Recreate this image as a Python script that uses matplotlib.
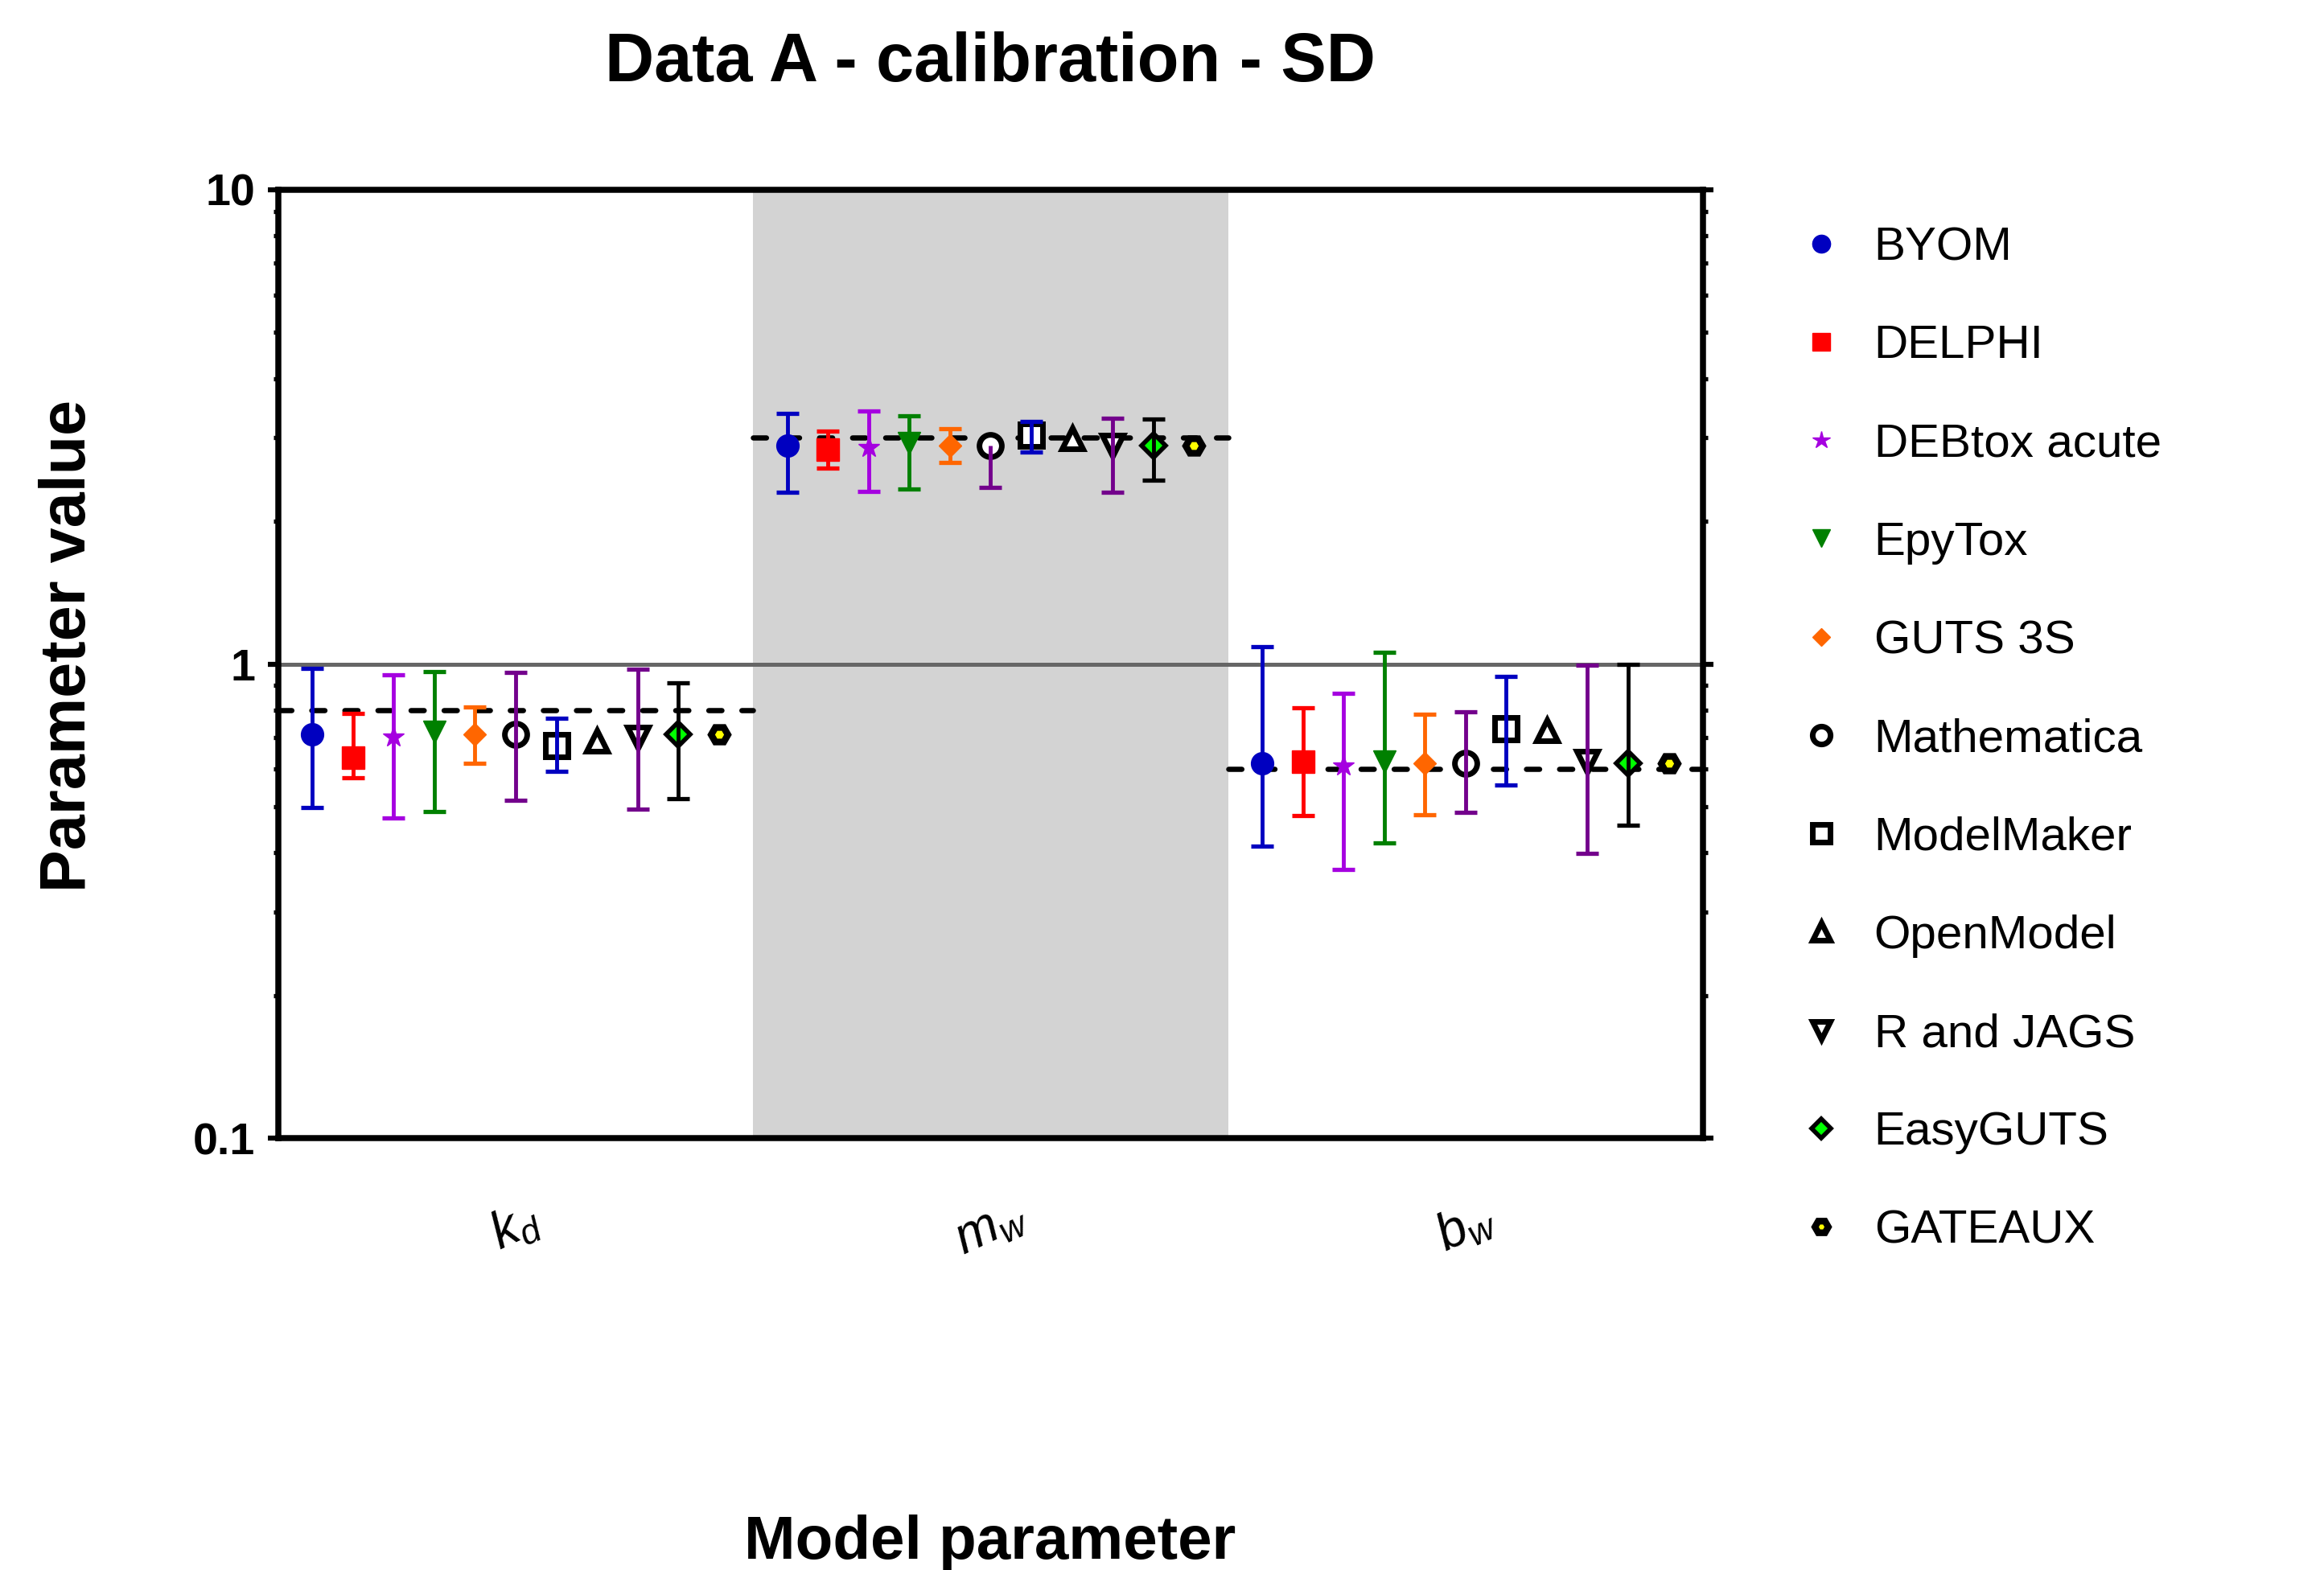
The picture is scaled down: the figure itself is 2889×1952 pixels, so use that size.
import numpy as np
import matplotlib
matplotlib.use("Agg")
import matplotlib.pyplot as plt
from matplotlib.lines import Line2D
from matplotlib.ticker import LogLocator, NullFormatter

plt.rcParams['font.family'] = ['Liberation Sans', 'DejaVu Sans']
plt.rcParams['mathtext.fontset'] = 'custom'
plt.rcParams['mathtext.it'] = 'Liberation Sans:italic'
plt.rcParams['mathtext.rm'] = 'Liberation Sans'

# -------- data --------
params = [r'$k_d$', r'$m_w$', r'$b_w$']
true_vals = [0.8, 3.0, 0.6]

models = ['BYOM', 'DELPHI', 'DEBtox acute', 'EpyTox', 'GUTS 3S', 'Mathematica',
          'ModelMaker', 'OpenModel', 'R and JAGS', 'EasyGUTS', 'GATEAUX']

# best estimates per model: kd, mw, bw
est = [
    [0.710, 2.89, 0.618],
    [0.635, 2.83, 0.622],
    [0.702, 2.86, 0.611],
    [0.718, 2.92, 0.623],
    [0.710, 2.89, 0.618],
    [0.710, 2.89, 0.618],
    [0.674, 3.04, 0.729],
    [0.689, 2.99, 0.724],
    [0.700, 2.89, 0.621],
    [0.710, 2.89, 0.618],
    [0.710, 2.89, 0.618],
]
nan = np.nan
# lower / upper limits of the intervals (nan = not shown)
lower = [
    [0.497, 2.30, 0.413],
    [0.576, 2.59, 0.478],
    [0.474, 2.31, 0.369],
    [0.489, 2.34, 0.420],
    [0.618, 2.66, 0.480],
    [0.516, 2.36, 0.487],
    [0.594, 2.80, 0.556],
    [nan, nan, nan],
    [0.494, 2.30, 0.398],
    [0.520, 2.44, 0.457],
    [nan, nan, nan],
]
upper = [
    [0.980, 3.37, 1.088],
    [0.787, 3.10, 0.808],
    [0.950, 3.41, 0.868],
    [0.965, 3.34, 1.060],
    [0.812, 3.14, 0.783],
    [0.961, nan, 0.793],
    [0.769, 3.25, 0.941],
    [nan, nan, nan],
    [0.976, 3.30, 0.995],
    [0.913, 3.29, 0.998],
    [nan, nan, nan],
]

# -------- styles --------
# marker, face, edge, size, edge width, bar colour
styles = [
    ('o', '#0000C0', '#0000C0', 20, 1, '#0000C0'),
    ('s', '#FF0000', '#FF0000', 20, 1, '#FF0000'),
    ('*', '#A500E0', '#A500E0', 20, 1, '#A500E0'),
    ('v', '#008000', '#008000', 20, 1, '#008000'),
    ('D', '#FF6600', '#FF6600', 14, 1, '#FF6600'),
    ('o', 'white', 'black', 20, 5, '#73008C'),
    ('s', 'white', 'black', 20, 5, '#0000C0'),
    ('^', 'white', 'black', 19, 5, None),
    ('v', 'white', 'black', 19, 5, '#73008C'),
    ('D', '#00FF00', 'black', 15, 4, 'black'),
    ('H', '#FFFF00', 'black', 15, 6, None),
]

fig = plt.figure(figsize=(28.89, 19.52), dpi=100)
ax = fig.add_axes([0.1197, 0.2751, 0.6131, 0.6040])

ax.set_yscale('log')
ax.set_ylim(0.1, 10)
ax.set_xlim(0, 3)

# grey band for the middle parameter, reference lines
ax.axvspan(1, 2, color='#D3D3D3', lw=0, zorder=0)
ax.axhline(1, color='#666666', lw=3.6, zorder=1.5)
for i, t in enumerate(true_vals):
    ax.plot([i, i + 1], [t, t], color='black', lw=4.7, ls=(0, (2.5, 3.8)),
            dash_capstyle='round', zorder=2)

n = len(models)
step = 0.0856
groups = np.arange(len(params))
for j, name in enumerate(models):
    mk, fc, ec, ms, mew, bc = styles[j]
    x = groups + 0.5 + (j - (n - 1) / 2) * step
    y = np.array(est[j])
    ax.plot(x, y, ls='none', marker=mk, mfc=fc, mec=ec, ms=ms, mew=mew, zorder=3)
    if bc is None:
        continue
    lo = np.array(lower[j])
    hi = np.array(upper[j])
    top = np.where(np.isnan(hi), y, hi)
    ax.vlines(x, lo, top, color=bc, lw=3.5, zorder=4)
    ax.plot(x, lo, ls='none', marker='_', ms=20, mew=3.8, color=bc, zorder=4)
    ax.plot(x, hi, ls='none', marker='_', ms=20, mew=3.8, color=bc, zorder=4)

# -------- axes styling --------
for s in ax.spines.values():
    s.set_linewidth(5.4)
ax.set_yticks([0.1, 1, 10], ['0.1', '1', '10'])
ax.yaxis.set_minor_locator(LogLocator(base=10, subs=np.arange(2, 10)))
ax.yaxis.set_minor_formatter(NullFormatter())
ax.tick_params(axis='y', which='major', direction='out', length=9.5, width=4.5,
               left=True, right=True, labelsize=40, pad=11)
ax.tick_params(axis='y', which='minor', direction='out', length=4.5, width=3.8,
               left=True, right=True)
for lab in ax.get_yticklabels():
    lab.set_fontweight('bold')

ax.set_xticks(groups + 0.5, params, rotation=25, rotation_mode='anchor',
              ha='center', va='center', fontsize=46)
ax.tick_params(axis='x', length=0, pad=80)

ax.set_title('Data A - calibration - SD', fontsize=61, fontweight='bold',
             y=1.1335, pad=0, va='center')
ax.set_ylabel('Parameter value', fontsize=57, fontweight='bold', va='center')
ax.yaxis.set_label_coords(-0.1472, 0.519)
ax.set_xlabel('Model parameter', fontsize=55, fontweight='bold', va='center')
ax.xaxis.set_label_coords(0.4998, -0.4267)

handles = [Line2D([], [], ls='none', marker=st[0], mfc=st[1], mec=st[2],
                  ms=st[3], mew=st[4]) for st in styles]
ax.legend(handles, models, loc='upper left', bbox_to_anchor=(0.7737, 0.856),
          bbox_transform=fig.transFigure, frameon=False, fontsize=42,
          handlelength=1.0, handletextpad=0.62, labelspacing=1.17,
          borderpad=0, borderaxespad=0, markerscale=0.8)

fig.savefig('out.png', dpi=100)
